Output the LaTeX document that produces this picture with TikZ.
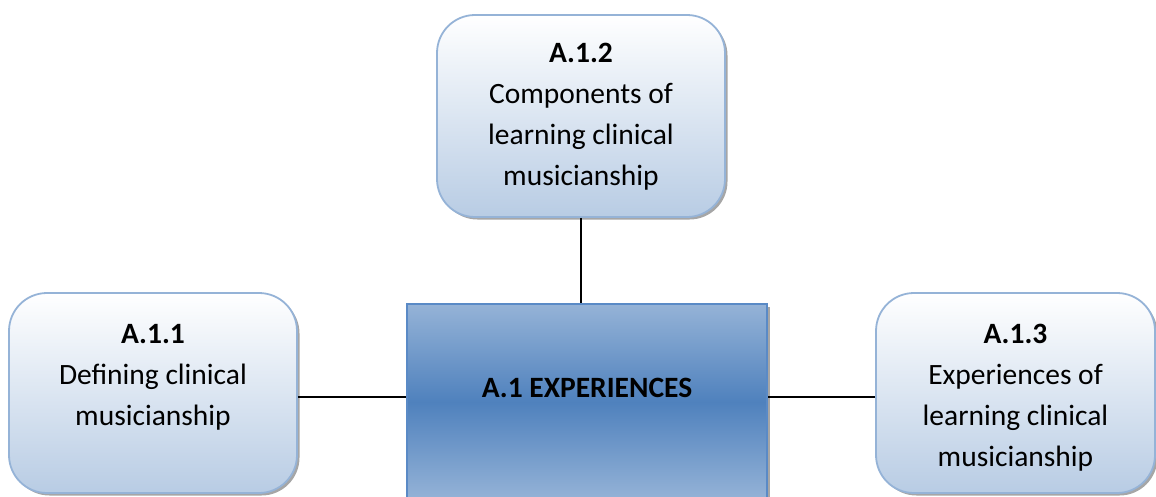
\documentclass[tikz,border=0pt]{standalone}
\usepackage{fontspec}
\setmainfont{Carlito}
\usetikzlibrary{shadows}
\definecolor{boxborder}{HTML}{95B3D7}
\definecolor{boxbottom}{HTML}{B8CCE4}
\definecolor{midblue}{HTML}{4F81BD}
\definecolor{lightblue}{HTML}{95B3D7}
\definecolor{centerborder}{HTML}{5A8AC6}
\tikzset{
  roundbox/.style={draw=boxborder, line width=1.8pt, rounded corners=38pt,
    top color=white, bottom color=boxbottom,
    drop shadow={shadow xshift=2.5pt, shadow yshift=-2.5pt, fill=black, opacity=0.35},
    inner sep=0pt},
  centerbox/.style={draw=centerborder, line width=1.2pt,
    top color=lightblue, bottom color=lightblue, middle color=midblue,
    drop shadow={shadow xshift=2.5pt, shadow yshift=-2.5pt, fill=black, opacity=0.35},
    inner sep=0pt},
  label/.style={align=center, inner sep=0pt, anchor=north,
    font={\fontsize{29.5}{41}\selectfont}},
  connector/.style={draw=black, line width=1.6pt}
}
\begin{document}
\begin{tikzpicture}[x=1pt,y=-1pt]
\useasboundingbox[fill=white] (0,0) rectangle (1156,496);
\node[roundbox, minimum width=288pt, minimum height=202pt] (T) at (581,116) {};
\node[roundbox, minimum width=288pt, minimum height=200pt] (L) at (153,393) {};
\node[roundbox, minimum width=279pt, minimum height=200pt] (R) at (1015.5,393) {};
\node[centerbox, minimum width=360pt, minimum height=196pt] (C) at (587,402) {};
\node[label] (Tt) at (581,43) {\textbf{A.1.2}\\Components of\\learning clinical\\musicianship};
\node[label] (Lt) at (153,324) {\textbf{A.1.1}\\Defining clinical\\musicianship};
\node[label] (Rt) at (1015.5,324) {\textbf{A.1.3}\\Experiences of\\learning clinical\\musicianship};
\node[font={\fontsize{29.5}{34}\selectfont\bfseries}, inner sep=0pt, anchor=base] (Ct) at (587,397) {A.1 EXPERIENCES};
\draw[connector] (T.south) -- (T.south |- C.north);
\draw[connector] ([yshift=-4pt]L.east) coordinate (lh) -- (lh -| C.west);
\draw[connector] ([yshift=-4pt]R.west) coordinate (rh) -- (rh -| C.east);
\end{tikzpicture}
\end{document}
